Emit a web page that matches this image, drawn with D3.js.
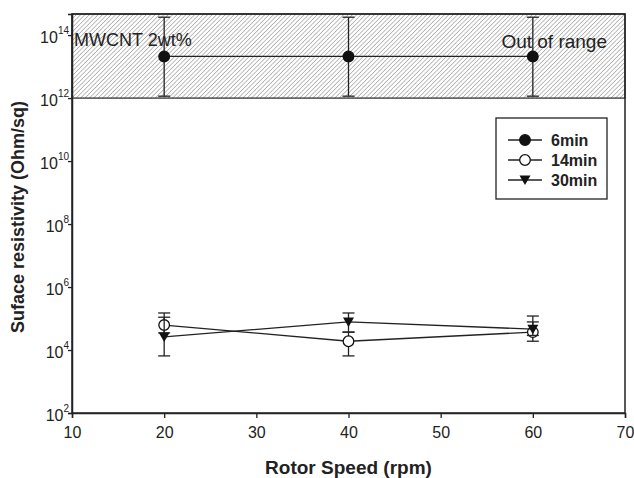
<!DOCTYPE html>
<html>
<head>
<meta charset="utf-8">
<script src="https://cdn.jsdelivr.net/npm/d3@7"></script>
<style>
  body { margin: 0; background: #fff; }
  text { font-family: "Liberation Sans", Arial, sans-serif; fill: #222; }
</style>
</head>
<body>
<div id="chart"></div>
<script>
const speeds = [20, 40, 60];
const seriesNames = ["6min", "14min", "30min"];
// value, upper error, lower error (Ohm/sq)
const min6 = [2.1e13, 2.1e13, 2.1e13];
const min6Hi = [3.7e14, 3.7e14, 3.7e14];
const min6Lo = [1.15e12, 1.15e12, 1.15e12];
const min14 = [6.2e4, 1.9e4, 3.7e4];
const min14Hi = [1.5e5, 3.7e4, 7.8e4];
const min14Lo = [3.5e4, 6.5e3, 1.9e4];
const min30 = [2.6e4, 7.8e4, 4.6e4];
const min30Hi = [1.1e5, 1.5e5, 1.2e5];
const min30Lo = [6.5e3, 3.7e4, 2.9e4];
const xTicks = [10, 20, 30, 40, 50, 60, 70];
const yTicks = [2, 4, 6, 8, 10, 12, 14];

const width = 634, height = 478;
const margin = { top: 14, right: 9, bottom: 65, left: 72 };
const w = width - margin.left - margin.right;
const h = height - margin.top - margin.bottom;

const svg = d3.select("#chart").append("svg")
    .attr("width", width)
    .attr("height", height);

const defs = svg.append("defs");
const pat = defs.append("pattern")
    .attr("id", "hatch")
    .attr("patternUnits", "userSpaceOnUse")
    .attr("width", 3.1)
    .attr("height", 3.1)
    .attr("patternTransform", "rotate(45)");
pat.append("line")
    .attr("x1", 0).attr("y1", 0).attr("x2", 0).attr("y2", 3.1)
    .attr("stroke", "#888")
    .attr("stroke-width", 1.1);

const g = svg.append("g")
    .attr("transform", `translate(${margin.left}, ${margin.top})`);

const x = d3.scaleLinear().domain([10, 70]).range([0, w]);
const y = d3.scaleLog().domain([1e2, Math.pow(10, 14.67)]).range([h, 0]);

// out-of-range hatched band
g.append("rect")
    .attr("x", 0)
    .attr("y", 0)
    .attr("width", w)
    .attr("height", y(1e12))
    .attr("fill", "url(#hatch)")
    .attr("stroke", "#222")
    .attr("stroke-width", 1.2);

// frame
g.append("rect")
    .attr("width", w)
    .attr("height", h)
    .attr("fill", "none")
    .attr("stroke", "#222")
    .attr("stroke-width", 1.5);

// x axis
const xAxis = g.append("g")
    .attr("transform", `translate(0, ${h})`)
    .call(d3.axisBottom(x).tickValues(xTicks).tickSize(5).tickPadding(9).tickFormat(d3.format("d")));
xAxis.select(".domain").attr("stroke", "#222").attr("stroke-width", 1.5);
xAxis.selectAll(".tick line").attr("stroke", "#222").attr("stroke-width", 1.3);
xAxis.selectAll(".tick text")
    .style("font-size", "16px")
    .style("font-family", "Liberation Sans, Arial, sans-serif")
    .attr("fill", "#222");

// y axis with superscript labels
const yAxis = g.append("g")
    .call(d3.axisLeft(y).tickValues(yTicks.map(e => Math.pow(10, e))).tickSize(4).tickFormat(""));
yAxis.select(".domain").attr("stroke", "#222").attr("stroke-width", 1.5);
yAxis.selectAll(".tick line").attr("stroke", "#222").attr("stroke-width", 1.3);

yTicks.forEach(e => {
    const t = g.append("text")
        .attr("x", -3)
        .attr("y", y(Math.pow(10, e)) + 8)
        .attr("text-anchor", "end")
        .style("font-size", "16px");
    t.append("tspan").text("10");
    t.append("tspan")
        .attr("dy", -9)
        .style("font-size", "10px")
        .text(e);
});

// axis titles
svg.append("text")
    .attr("x", margin.left + w / 2)
    .attr("y", 474)
    .attr("text-anchor", "middle")
    .style("font-size", "19px")
    .style("font-weight", "bold")
    .text("Rotor Speed (rpm)");

svg.append("text")
    .attr("transform", `translate(24, ${217}) rotate(-90)`)
    .attr("text-anchor", "middle")
    .style("font-size", "18px")
    .style("font-weight", "bold")
    .text("Suface resistivity (Ohm/sq)");

// annotations
g.append("text")
    .attr("x", 2)
    .attr("y", 32)
    .style("font-size", "18px")
    .text("MWCNT 2wt%");
g.append("text")
    .attr("x", w - 18)
    .attr("y", 34)
    .attr("text-anchor", "end")
    .style("font-size", "19px")
    .text("Out of range");

const series = [
    { name: seriesNames[0], v: min6, hi: min6Hi, lo: min6Lo, sym: "fcircle" },
    { name: seriesNames[1], v: min14, hi: min14Hi, lo: min14Lo, sym: "ocircle" },
    { name: seriesNames[2], v: min30, hi: min30Hi, lo: min30Lo, sym: "tri" }
];

const line = d3.line().x(d => x(d[0])).y(d => y(d[1]));

function drawSymbol(sel, sym, cx, cy) {
    if (sym === "tri") {
        sel.append("path")
            .attr("d", `M${cx - 5.5},${cy - 4.5}L${cx + 5.5},${cy - 4.5}L${cx},${cy + 5}Z`)
            .attr("fill", "#111");
    } else {
        sel.append("circle")
            .attr("cx", cx).attr("cy", cy).attr("r", 5.3)
            .attr("fill", sym === "fcircle" ? "#111" : "#fff")
            .attr("stroke", "#111")
            .attr("stroke-width", 1.3);
    }
}

series.forEach(s => {
    const sg = g.append("g");
    const pts = speeds.map((sp, i) => [sp, s.v[i]]);
    // error bars
    speeds.forEach((sp, i) => {
        const cx = x(sp);
        sg.append("line")
            .attr("x1", cx).attr("x2", cx)
            .attr("y1", y(s.hi[i])).attr("y2", y(s.lo[i]))
            .attr("stroke", "#222").attr("stroke-width", 1.3);
        [s.hi[i], s.lo[i]].forEach(val => {
            sg.append("line")
                .attr("x1", cx - 6).attr("x2", cx + 6)
                .attr("y1", y(val)).attr("y2", y(val))
                .attr("stroke", "#222").attr("stroke-width", 1.3);
        });
    });
    sg.append("path")
        .attr("d", line(pts))
        .attr("fill", "none")
        .attr("stroke", "#222")
        .attr("stroke-width", 1.3);
    pts.forEach(p => drawSymbol(sg, s.sym, x(p[0]), y(p[1])));
});

// legend
const lg = svg.append("g").attr("transform", "translate(496, 118)");
lg.append("rect")
    .attr("width", 111)
    .attr("height", 81)
    .attr("fill", "#fff")
    .attr("stroke", "#222")
    .attr("stroke-width", 1.3);
series.forEach((s, i) => {
    const ly = 22 + i * 20;
    lg.append("line")
        .attr("x1", 12).attr("x2", 46)
        .attr("y1", ly).attr("y2", ly)
        .attr("stroke", "#222").attr("stroke-width", 1.3);
    drawSymbol(lg, s.sym, 29, ly);
    lg.append("text")
        .attr("x", 55)
        .attr("y", ly + 6)
        .style("font-size", "16px")
        .style("font-weight", "bold")
        .text(s.name);
});
</script>
</body>
</html>
